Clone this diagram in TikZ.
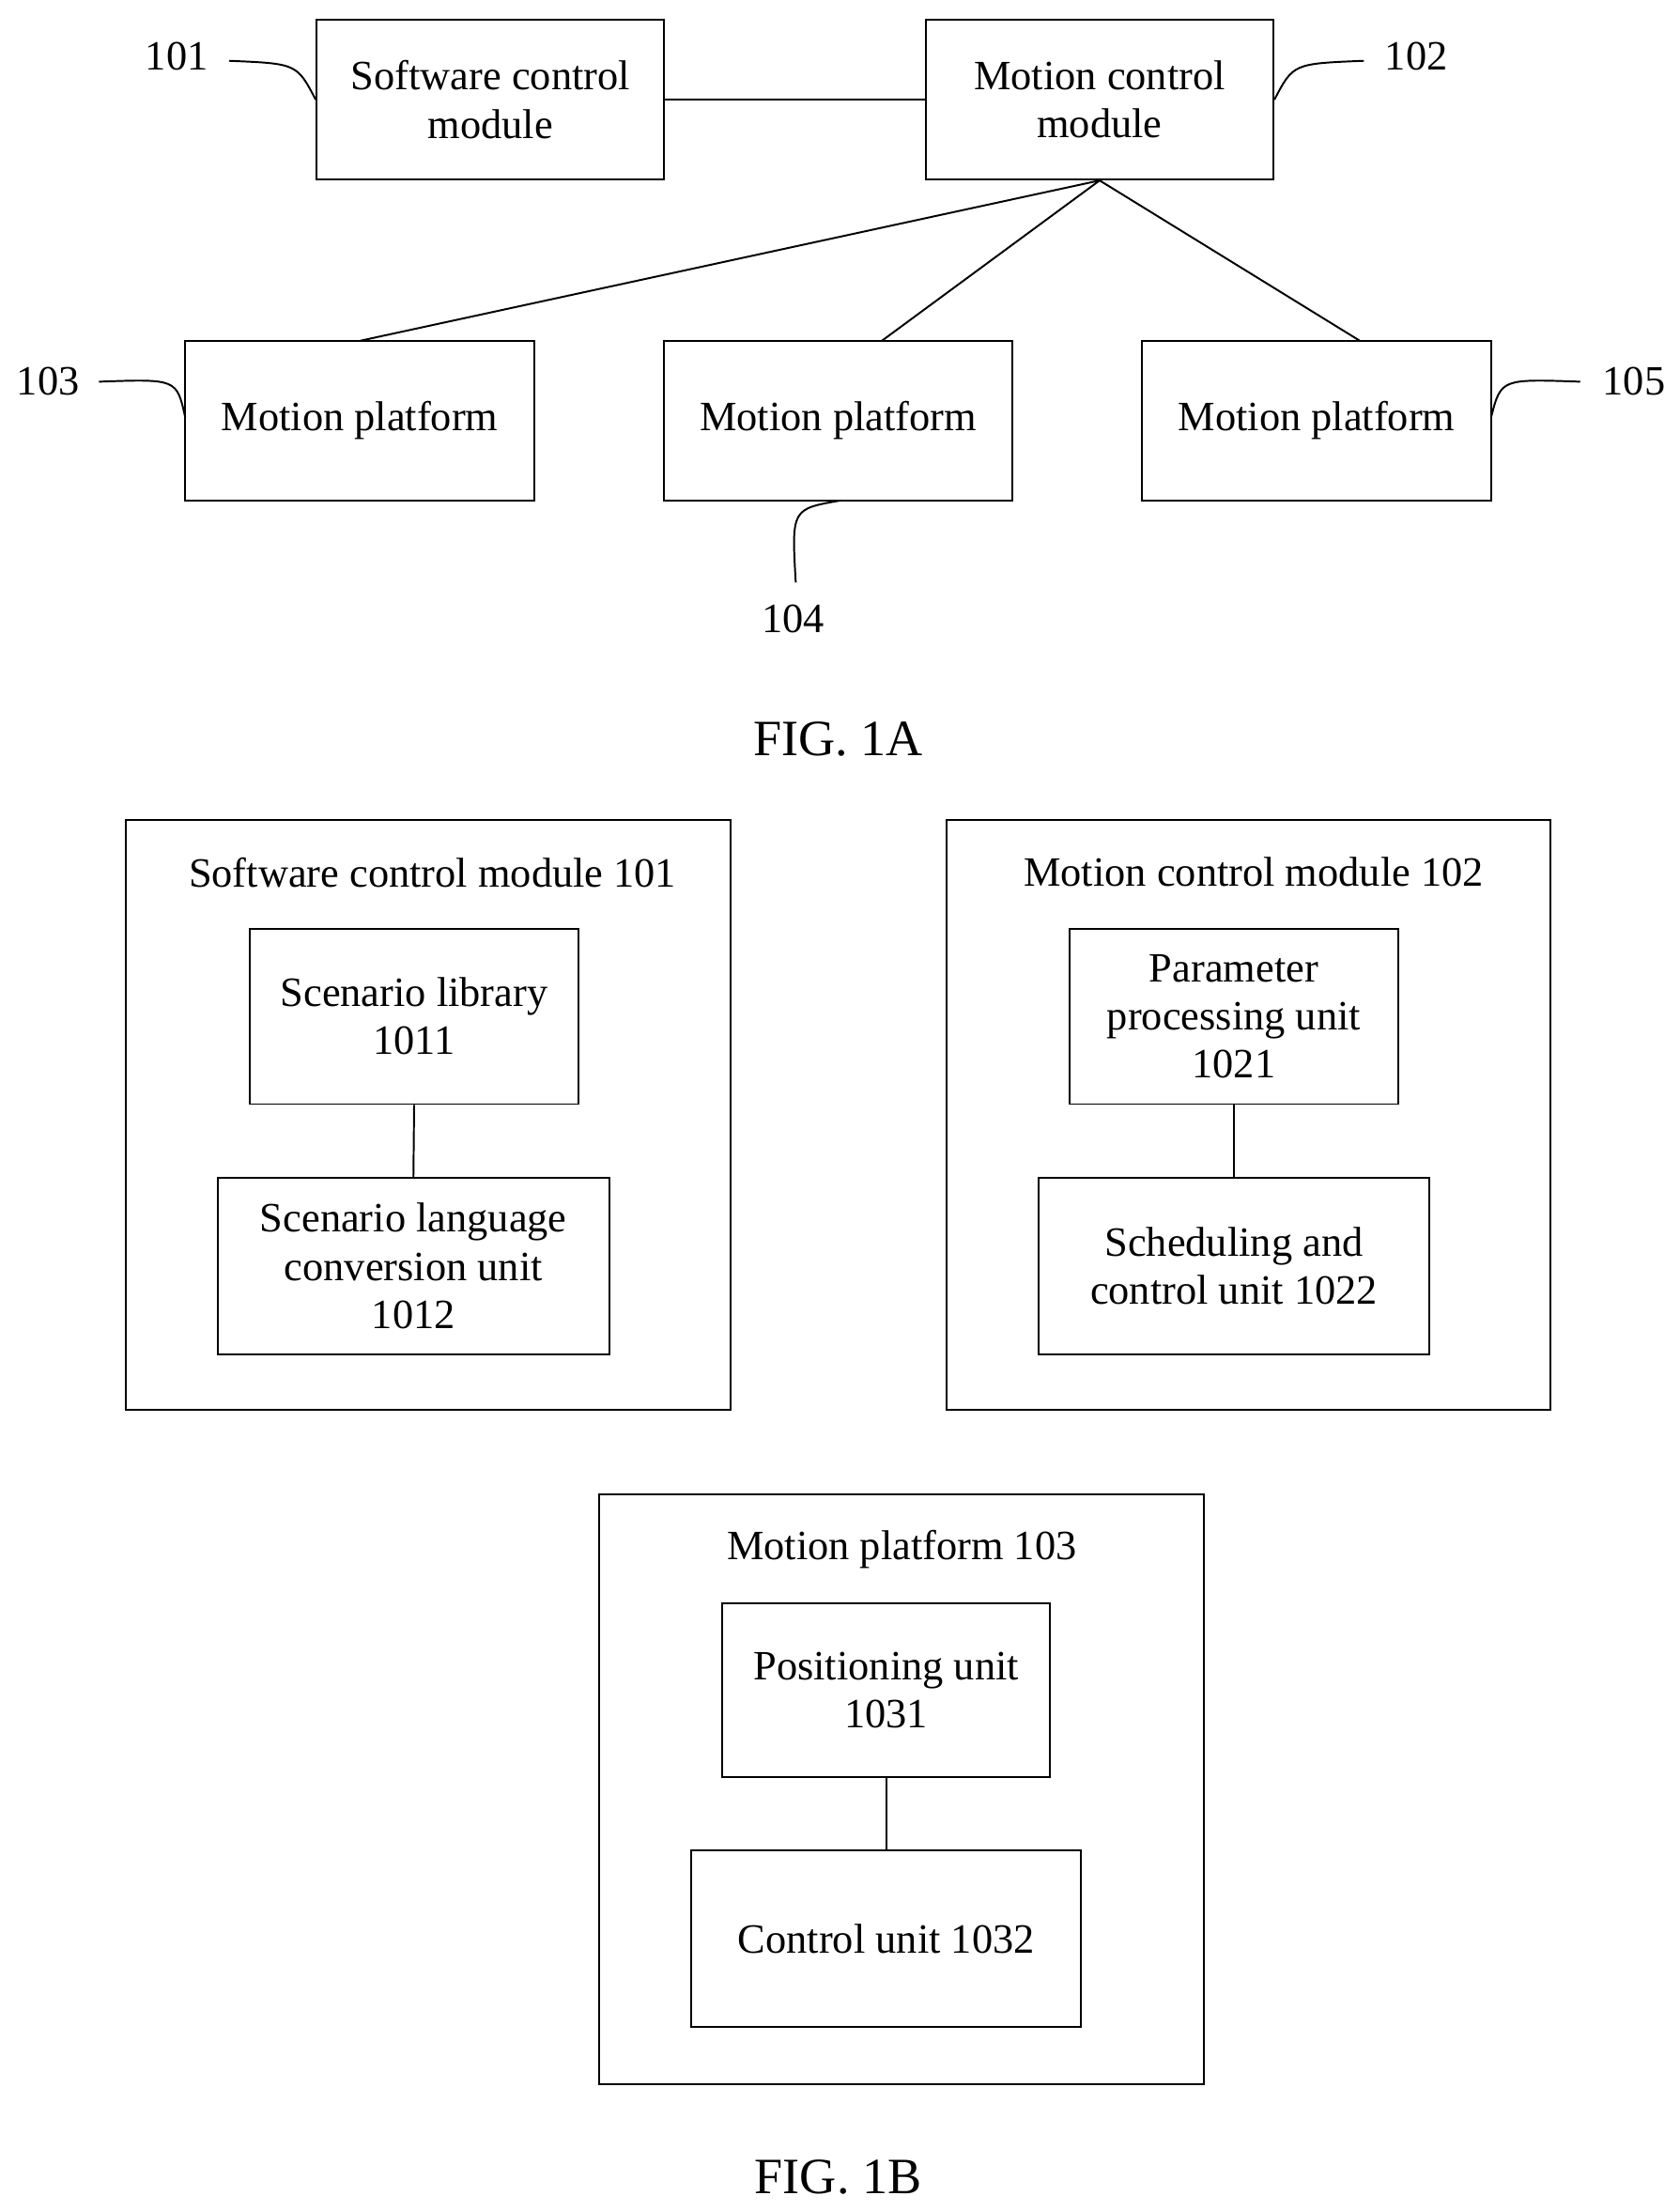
\documentclass[tikz,border=0pt]{standalone}
\usepackage{fontspec}
\setmainfont{Liberation Serif}
\begin{document}
\begin{tikzpicture}[x=1pt,y=-1pt,
  every node/.style={font=\fontsize{29.5}{34}\selectfont},
  bx/.style={draw,line width=1.3pt,align=center,inner sep=0pt},
  ln/.style={line width=1.3pt}]
\useasboundingbox (0,0) rectangle (1188,1564);
\newcommand\bx[5]{\node[bx,minimum width=#3-#1,minimum height=#4-#2] (#5) at ({(#1+#3)/2},{(#2+#4)/2}) {};}
\bx{224}{14}{470}{127}{s}
\node[align=center] at (s) {Software control\\module};
\bx{655}{14}{901}{127}{m}
\node[align=center] at (m) {Motion control\\module};
\bx{131}{241}{378}{354}{p1}\node at (p1) {Motion platform};
\bx{470}{241}{716}{354}{p2}\node at (p2) {Motion platform};
\bx{808}{241}{1055}{354}{p3}\node at (p3) {Motion platform};
\draw[ln] (s.east) -- (m.west);
\draw[ln] (m.south) -- (255,241);
\draw[ln] (m.south) -- (624,241);
\draw[ln] (m.south) -- (962,241);
\node (l101) at (125,40) {101};
\node (l102) at (1002,40) {102};
\node (l103) at (34,270) {103};
\node (l105) at (1156,270) {105};
\node (l104) at (561,438) {104};
\draw[ln] (162,43) .. controls (210,45) .. (s.west);
\draw[ln] (965,43) .. controls (915,45) .. (m.east);
\draw[ln] (70,270) .. controls (125,268) .. (131,295);
\draw[ln] (1118,270) .. controls (1062,268) .. (1055,295);
\draw[ln] (563,412) .. controls (560,360) .. (595,354);
\node[font=\fontsize{36}{40}\selectfont] at (593,523) {FIG. 1A};
\bx{89}{580}{517}{997}{o1}
\node at (306,617) {Software control module 101};
\bx{177}{657}{409}{781}{a1}\node[align=center] at (a1) {Scenario library\\1011};
\bx{154}{833}{431}{958}{a2}\node[align=center] at (a2) {Scenario language\\conversion unit\\1012};
\draw[ln] (a1.south) -- (a2.north);
\bx{670}{580}{1097}{997}{o2}
\node at (887,617) {Motion control module 102};
\bx{757}{657}{989}{781}{b1}\node[align=center] at (b1) {Parameter\\processing unit\\1021};
\bx{735}{833}{1011}{958}{b2}\node[align=center] at (b2) {Scheduling and\\control unit 1022};
\draw[ln] (b1.south) -- (b2.north);
\bx{424}{1057}{852}{1474}{o3}
\node at (638,1096) {Motion platform 103};
\bx{511}{1134}{743}{1257}{c1}\node[align=center] at (c1) {Positioning unit\\1031};
\bx{489}{1309}{765}{1434}{c2}\node at (c2) {Control unit 1032};
\draw[ln] (c1.south) -- (c2.north);
\node[font=\fontsize{36}{40}\selectfont] at (593,1540) {FIG. 1B};
\end{tikzpicture}
\end{document}
